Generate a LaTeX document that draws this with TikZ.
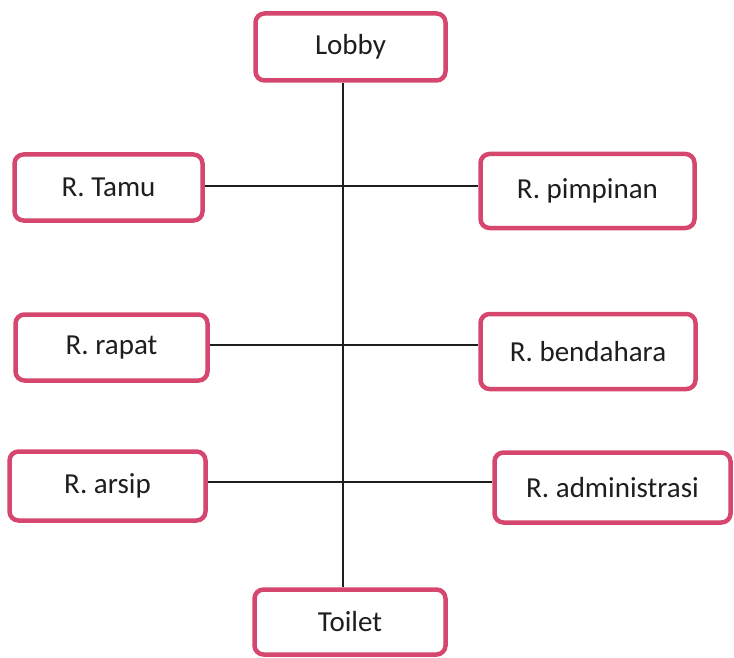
\documentclass[tikz,border=0pt]{standalone}
\usepackage{fontspec}
\setmainfont{Carlito}
\definecolor{boxred}{RGB}{213,71,110}
\definecolor{ink}{RGB}{30,30,30}
\begin{document}
\begin{tikzpicture}[x=1pt,y=-1pt,
  room/.style={draw=boxred, line width=4.5pt, rounded corners=9pt, fill=white,
    inner sep=0pt, font=\fontsize{29}{32}\selectfont, text=ink},
  link/.style={draw=ink, line width=1.8pt}]
\useasboundingbox (0,0) rectangle (734,658);
\coordinate (spine) at (343,0);
\node[room, minimum width=190pt, minimum height=67pt] (lobby) at (350.5,47) {Lobby};
\node[room, minimum width=191pt, minimum height=65pt] (toilet) at (350,622) {Toilet};
\node[room, minimum width=188pt, minimum height=66pt] (tamu) at (108.5,187.5) {R. Tamu};
\node[room, minimum width=214pt, minimum height=74pt] (pimpinan) at (587.5,191) {R. pimpinan};
\node[room, minimum width=192pt, minimum height=66pt] (rapat) at (111.5,347.5) {R. rapat};
\node[room, minimum width=215pt, minimum height=75pt] (bendahara) at (588,351.5) {R. bendahara};
\node[room, minimum width=196pt, minimum height=69pt] (arsip) at (107.5,486) {R. arsip};
\node[room, minimum width=236pt, minimum height=70pt] (admin) at (612.5,487.5) {R. administrasi};
\draw[link] (lobby.south -| spine) -- (toilet.north -| spine);
\draw[link] (tamu.east |- 0,186) -- (pimpinan.west |- 0,186);
\draw[link] (rapat.east |- 0,345) -- (bendahara.west |- 0,345);
\draw[link] (arsip.east |- 0,482) -- (admin.west |- 0,482);
\end{tikzpicture}
\end{document}
